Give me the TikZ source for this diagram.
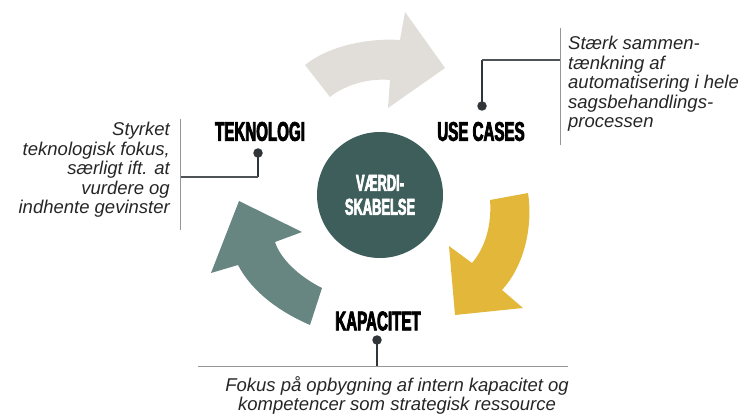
\documentclass[tikz,border=0pt]{standalone}
\usepackage{fontspec}
\setmainfont{Liberation Sans}
\newfontfamily\capsfont{Liberation Sans}[FakeStretch=0.56,BoldFeatures={FakeBold=2.8}]
\usetikzlibrary{positioning}
\definecolor{PaleGrey}{RGB}{225,222,217}
\definecolor{Mustard}{RGB}{227,184,58}
\definecolor{SageTeal}{RGB}{104,134,129}
\definecolor{DeepTeal}{RGB}{62,94,91}
\definecolor{InkGrey}{RGB}{47,53,56}
\definecolor{RuleGrey}{RGB}{150,150,150}
\tikzset{
  hub/.style={circle,fill=DeepTeal,minimum size=126pt,inner sep=0pt,text=white,
    align=center,font=\capsfont\bfseries\fontsize{23}{24}\selectfont},
  caption/.style={font=\capsfont\bfseries\fontsize{27}{24}\selectfont,inner sep=0pt},
  note/.style={font=\itshape\fontsize{18.5}{19.5}\selectfont,text=black!85,inner sep=0pt},
  dotmark/.style={circle,fill=InkGrey,inner sep=0pt,minimum size=9.5pt},
  stem/.style={InkGrey,line width=2.6pt},
  leader/.style={InkGrey!85,line width=1.1pt},
  divider/.style={RuleGrey,line width=0.9pt}
}

\begin{document}
\begin{tikzpicture}[x=1pt,y=-1pt]
  \useasboundingbox (0,0) rectangle (744,414);
  % curved arrows round the hub
  \fill[PaleGrey] (305,65) .. controls (330,45) and (370,38) .. (400,40) -- (405,12)
    -- (445,68) -- (388,108) -- (390,80) .. controls (368,78) and (345,85) .. (330,97) -- cycle;
  \fill[Mustard] (490,200) -- (528,193) .. controls (533,225) and (525,265) .. (502,290)
    -- (523,308) -- (455,315) -- (449,246) -- (472,263) .. controls (485,248) and (492,225) .. (490,200) -- cycle;
  \fill[SageTeal] (322,288) -- (310,325) .. controls (280,312) and (252,292) .. (238,265)
    -- (211,273) -- (239,201) -- (302,232) -- (275,242) .. controls (280,258) and (298,276) .. (322,288) -- cycle;

  \node[hub] (hub) at (380,195) {VÆRDI-\\SKABELSE};

  \node[caption] (tek) at (260,131.5) {TEKNOLOGI};
  \node[caption] (use) at (481,131.5) {USE CASES};
  \node[caption] (kap) at (378,321) {KAPACITET};

  % teknologi
  \node[dotmark] (tekdot) at (258,153) {};
  \coordinate (tekknee) at (258,177);
  \coordinate (tekbar) at (180,177);
  \draw[stem] (tekdot.center) -- (tekknee);
  \draw[leader] (tekknee) -- (tekbar);
  \draw[divider] (180,119) -- (180,230);
  \node[note,align=right,anchor=north east] (tektext) at (170,122)
    {Styrket\\teknologisk fokus,\\særligt ift. at\\vurdere og\\indhente gevinster};

  % use cases
  \node[dotmark] (usedot) at (482,106) {};
  \coordinate (useknee) at (482,60);
  \coordinate (usebar) at (560,60);
  \draw[stem] (usedot.center) -- (useknee);
  \draw[leader] (useknee) -- (usebar);
  \draw[divider] (560,28) -- (560,145);
  \node[note,align=left,anchor=north west] (usetext) at (568,36)
    {Stærk sammen-\\tænkning af\\automatisering i hele\\sagsbehandlings-\\processen};

  % kapacitet
  \node[dotmark] (kapdot) at (377,340) {};
  \coordinate (kapbar) at (377,366);
  \draw[stem] (kapdot.center) -- (kapbar);
  \draw[divider] (198,366) -- (568,366);
  \node[note,align=center,anchor=north] (kaptext) at (397,376)
    {Fokus på opbygning af intern kapacitet og\\kompetencer som strategisk ressource};
\end{tikzpicture}
\end{document}
